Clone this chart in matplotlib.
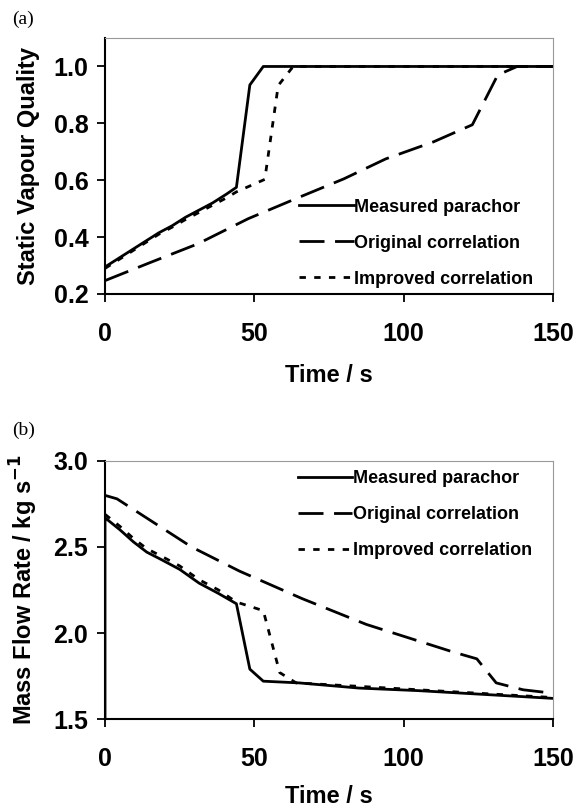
import numpy as np
import matplotlib
matplotlib.use("Agg")
import matplotlib.pyplot as plt

# ---- datos panel (a): calidad de vapor estatica ----
t_med_a = [0, 4.5, 9, 13.5, 18, 22.5, 27, 31.5, 36, 40.5, 44, 48.5, 53, 150]
x_med_a = [0.295, 0.325, 0.355, 0.385, 0.415, 0.44, 0.47, 0.495, 0.52, 0.55, 0.575, 0.935, 1.0, 1.0]

t_orig_a = [0, 15, 31, 48, 65, 80, 94, 110, 123, 131.5, 138, 150]
x_orig_a = [0.247, 0.31, 0.376, 0.465, 0.54, 0.605, 0.675, 0.735, 0.795, 0.97, 1.0, 1.0]

t_mej_a = [0, 4.5, 9, 13.5, 18, 22.5, 27, 31.5, 36, 40.5, 44, 53.5, 58, 63, 150]
x_mej_a = [0.29, 0.32, 0.35, 0.38, 0.41, 0.435, 0.462, 0.487, 0.512, 0.537, 0.559, 0.603, 0.933, 1.0, 1.0]

# ---- datos panel (b): caudal masico ----
t_med_b = [0, 0, 5, 9.5, 14, 18.5, 25, 31.5, 38, 44, 48.5, 53, 65, 85, 105, 125, 150]
m_med_b = [0.0, 2.67, 2.60, 2.53, 2.47, 2.43, 2.37, 2.29, 2.23, 2.17, 1.79, 1.72, 1.71, 1.68, 1.665, 1.645, 1.62]

t_orig_b = [0, 4, 29, 45, 66, 87.5, 116.5, 124.5, 131, 140, 150]
m_orig_b = [2.80, 2.78, 2.50, 2.36, 2.20, 2.05, 1.89, 1.85, 1.71, 1.67, 1.65]

t_mej_b = [0, 5, 9.5, 14, 18.5, 25, 31.5, 38, 44, 53, 58.5, 64, 85, 105, 125, 150]
m_mej_b = [2.69, 2.62, 2.55, 2.49, 2.45, 2.39, 2.31, 2.25, 2.18, 2.13, 1.77, 1.71, 1.69, 1.67, 1.65, 1.625]

etiquetas = ['Measured parachor', 'Original correlation', 'Improved correlation']

plt.rcParams['font.family'] = ['Liberation Sans', 'DejaVu Sans']
plt.rcParams['font.weight'] = 'bold'

fig = plt.figure(figsize=(5.76, 8.11), dpi=100)
ax_a = fig.add_axes([0.1823, 0.6375, 0.7777, 0.3156])
ax_b = fig.add_axes([0.1823, 0.1134, 0.7777, 0.3182])

LW = 2.0
estilo_orig = (0, (9, 3.8))
estilo_mej = (0, (2.3, 3.0))


def dibujar(ax, t1, y1, t2, y2, t3, y3):
    ax.plot(t1, y1, color='black', lw=LW, label=etiquetas[0])
    ax.plot(t2, y2, color='black', lw=LW, ls=estilo_orig, label=etiquetas[1])
    ax.plot(t3, y3, color='black', lw=LW, ls=estilo_mej, label=etiquetas[2])


def formato(ax, ylabel, y_xlabel):
    ax.set_xlim(0, 150)
    ax.set_xticks([0, 50, 100, 150])
    for lado in ['left', 'bottom']:
        ax.spines[lado].set_linewidth(1.5)
        ax.spines[lado].set_color('black')
    for lado in ['top', 'right']:
        ax.spines[lado].set_linewidth(0.8)
        ax.spines[lado].set_color('#999999')
    ax.tick_params(axis='both', direction='out', length=6, width=1.3, labelsize=18)
    ax.tick_params(axis='x', pad=14)
    ax.tick_params(axis='y', pad=6)
    ax.set_xlabel('Time / s', fontsize=17, fontweight='bold')
    ax.set_ylabel(ylabel, fontsize=17, fontweight='bold')
    ax.xaxis.set_label_coords(0.5, y_xlabel)
    ax.yaxis.set_label_coords(-0.145, 0.5)


# Panel (a)
dibujar(ax_a, t_med_a, x_med_a, t_orig_a, x_orig_a, t_mej_a, x_mej_a)
formato(ax_a, 'Static Vapour Quality', -0.275)
ax_a.set_ylim(0.2, 1.1)
ax_a.set_yticks([0.2, 0.4, 0.6, 0.8, 1.0])
ax_a.set_yticklabels(['0.2', '0.4', '0.6', '0.8', '1.0'])
ax_a.legend(loc='center left', bbox_to_anchor=(0.434, 0.199), frameon=False,
            fontsize=13, handlelength=3.0, handletextpad=0.05,
            labelspacing=1.05, borderpad=0, borderaxespad=0)

# Panel (b)
dibujar(ax_b, t_med_b, m_med_b, t_orig_b, m_orig_b, t_mej_b, m_mej_b)
formato(ax_b, 'Mass Flow Rate / kg s$^{\\mathbf{-1}}$', -0.255)
ax_b.set_ylim(1.5, 3.0)
ax_b.set_yticks([1.5, 2.0, 2.5, 3.0])
ax_b.set_yticklabels(['1.5', '2.0', '2.5', '3.0'])
ax_b.legend(loc='center left', bbox_to_anchor=(0.430, 0.791), frameon=False,
            fontsize=13, handlelength=3.0, handletextpad=0.05,
            labelspacing=1.05, borderpad=0, borderaxespad=0)

fig.text(0.021, 1 - 19 / 811, '(a)', family='Liberation Serif', fontweight='normal',
         fontsize=14, va='center', ha='left')
fig.text(0.021, 1 - 430 / 811, '(b)', family='Liberation Serif', fontweight='normal',
         fontsize=14, va='center', ha='left')

fig.savefig('out.png', dpi=100)
